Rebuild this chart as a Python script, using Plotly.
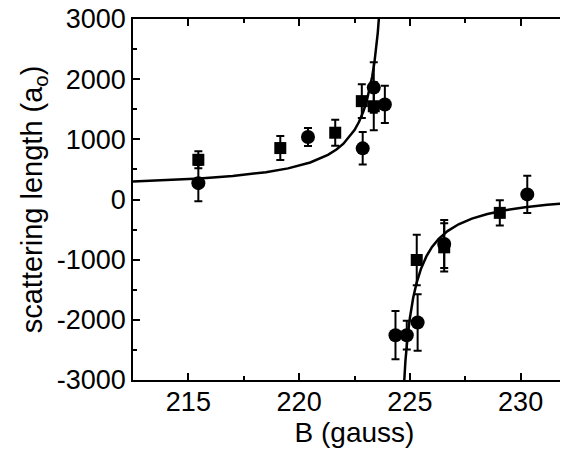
import plotly.graph_objects as go

# Data
circ_B = [215.45, 220.4, 222.87, 223.37, 223.87, 224.35, 224.86, 225.35, 226.55, 230.3]
circ_a = [272, 1040, 850, 1860, 1580, -2255, -2255, -2045, -740, 85]
circ_err = [300, 150, 270, 420, 310, 400, 240, 470, 400, 310]

sq_B = [215.45, 219.15, 221.63, 222.83, 223.37, 225.31, 226.55, 229.06]
sq_a = [660, 855, 1110, 1635, 1550, -1005, -795, -222]
sq_err = [140, 200, 215, 280, 400, 420, 400, 210]

# fit curve, points
left_B = [212.5, 214.0, 215.5, 217.0, 218.5, 219.5, 220.5, 221.3, 221.7, 222.0, 222.5,
          222.7, 222.9, 223.05, 223.2, 223.3, 223.4, 223.48, 223.55, 223.65]
left_a = [300, 322, 350, 391, 453, 517, 615, 741, 835, 928, 1155,
          1288, 1463, 1633, 1855, 2044, 2280, 2516, 2770, 3246]
right_B = [224.65, 224.72, 224.8, 224.9, 225.0, 225.15, 225.3, 225.5, 225.75, 226.0,
           226.3, 226.7, 227.2, 227.8, 228.5, 229.3, 230.2, 231.2, 232.1, 232.5]
right_a = [-3623, -3114, -2678, -2274, -1970, -1634, -1390, -1153, -942, -789,
           -655, -525, -412, -317, -240, -178, -128, -88, -60, -50]

y_tickvals = [3000, 2000, 1000, 0, -1000, -2000, -3000]
y_ticktext = ["3000", "2000", "1000", "0", "-1000", "-2000", "-3000"]
x_tickvals = [215, 220, 225, 230]
x_ticktext = ["215", "220", "225", "230"]

FONT = "Liberation Sans"

fig = go.Figure()
fig.add_trace(go.Scatter(x=left_B, y=left_a, mode="lines",
                         line=dict(color="black", width=2.5), showlegend=False))
fig.add_trace(go.Scatter(x=right_B, y=right_a, mode="lines",
                         line=dict(color="black", width=2.5), showlegend=False))
fig.add_trace(go.Scatter(x=sq_B, y=sq_a, mode="markers",
                         marker=dict(symbol="square", size=12, color="black"),
                         error_y=dict(type="data", array=sq_err, color="black",
                                      thickness=2, width=4),
                         showlegend=False, cliponaxis=False))
fig.add_trace(go.Scatter(x=circ_B, y=circ_a, mode="markers",
                         marker=dict(symbol="circle", size=14, color="black"),
                         error_y=dict(type="data", array=circ_err, color="black",
                                      thickness=2, width=4),
                         showlegend=False, cliponaxis=False))

fig.update_layout(
    width=568, height=464,
    margin=dict(l=125, r=0, t=11, b=92),
    paper_bgcolor="white", plot_bgcolor="white",
    font=dict(family=FONT, size=27, color="black"),
    xaxis=dict(range=[212.5, 232.5], tickvals=x_tickvals, ticktext=x_ticktext,
               ticks="inside", ticklen=7, tickwidth=1.5, tickcolor="black",
               minor=dict(dtick=2.5, tick0=215, ticks="inside", ticklen=4, tickcolor="black", tickwidth=1.5),
               showline=True, linecolor="black", linewidth=1.5, mirror="ticks",
               showgrid=False, zeroline=False, ticklabelstandoff=-3,
               title=dict(text="B (gauss)", font=dict(size=28), standoff=4),
               automargin=False),
    yaxis=dict(range=[-3000, 3000], tickvals=y_tickvals, ticktext=y_ticktext,
               ticks="inside", ticklen=7, tickwidth=1.5, tickcolor="black",
               minor=dict(dtick=500, tick0=0, ticks="inside", ticklen=4, tickcolor="black", tickwidth=1.5),
               showline=True, linecolor="black", linewidth=1.5,
               showgrid=False, zeroline=False, ticklabelstandoff=0,
               ticklabeloverflow="allow",
               title=dict(text="scattering length (a<sub>o</sub>)", font=dict(size=29), standoff=6),
               automargin=False),
)

fig.write_html("out.html")
